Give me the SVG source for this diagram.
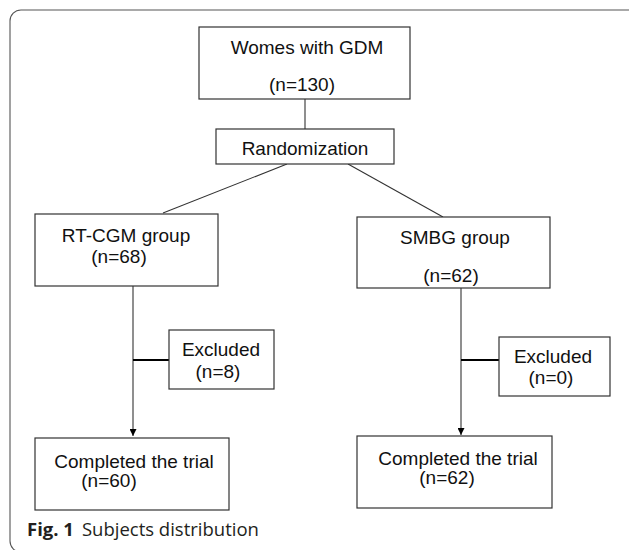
<svg xmlns="http://www.w3.org/2000/svg" width="629" height="550" viewBox="0 0 629 550">
<defs>
<style>
.box{fill:#fff;stroke:#333;stroke-width:1.2}
.t{font-family:"Liberation Sans",Arial,sans-serif;font-size:19px;fill:#111;text-anchor:middle}
.ln{stroke:#333;stroke-width:1.1;fill:none}
.hb{stroke:#000;stroke-width:2;fill:none}
.cap{font-family:"Open Sans","Noto Sans",sans-serif;font-size:18.5px;fill:#231f20}
</style>
<marker id="ah" viewBox="0 0 10 10" refX="10" refY="5" markerWidth="8" markerHeight="7" markerUnits="userSpaceOnUse" orient="auto">
<path d="M0,0 L10,5 L0,10 z" fill="#000"/>
</marker>
</defs>
<rect x="10" y="10" width="640" height="542" rx="11" fill="#fff" stroke="#555" stroke-width="1.1"/>
<g id="connectors">
<line class="ln" x1="305" y1="99" x2="305" y2="129"/>
<line class="ln" x1="287" y1="164" x2="163" y2="213"/>
<line class="ln" x1="348" y1="164" x2="443" y2="217"/>
<line class="ln" x1="133" y1="286" x2="133" y2="436" marker-end="url(#ah)"/>
<line class="ln" x1="461" y1="288" x2="461" y2="435" marker-end="url(#ah)"/>
<line class="hb" x1="133" y1="360" x2="169" y2="360"/>
<line class="hb" x1="461" y1="360" x2="499" y2="360"/>
</g>
<g id="n-women">
<rect class="box" x="199" y="27" width="211" height="72"/>
<text class="t" x="307" y="54">Womes with GDM</text>
<text class="t" x="302" y="91">(n=130)</text>
</g>
<g id="n-random">
<rect class="box" x="216" y="129" width="178" height="35"/>
<text class="t" x="305" y="155">Randomization</text>
</g>
<g id="n-rtcgm">
<rect class="box" x="35" y="214" width="183" height="72"/>
<text class="t" x="126" y="242">RT-CGM group</text>
<text class="t" x="119" y="263">(n=68)</text>
</g>
<g id="n-smbg">
<rect class="box" x="357" y="217" width="193" height="71"/>
<text class="t" x="455" y="244">SMBG group</text>
<text class="t" x="451" y="282">(n=62)</text>
</g>
<g id="n-excl1">
<rect class="box" x="169" y="330" width="105" height="59"/>
<text class="t" x="221" y="356">Excluded</text>
<text class="t" x="218" y="378">(n=8)</text>
</g>
<g id="n-excl2">
<rect class="box" x="499" y="337" width="111" height="59"/>
<text class="t" x="553" y="363">Excluded</text>
<text class="t" x="551" y="384">(n=0)</text>
</g>
<g id="n-comp1">
<rect class="box" x="35" y="438" width="194" height="72"/>
<text class="t" x="134" y="468" font-size="17.5">Completed the trial</text>
<text class="t" x="109" y="487">(n=60)</text>
</g>
<g id="n-comp2">
<rect class="box" x="357" y="436" width="195" height="72"/>
<text class="t" x="458" y="465" font-size="17.5">Completed the trial</text>
<text class="t" x="447" y="484">(n=62)</text>
</g>
<text class="cap" x="27" y="536"><tspan font-weight="bold">Fig. 1</tspan><tspan dx="8">Subjects distribution</tspan></text>
</svg>
